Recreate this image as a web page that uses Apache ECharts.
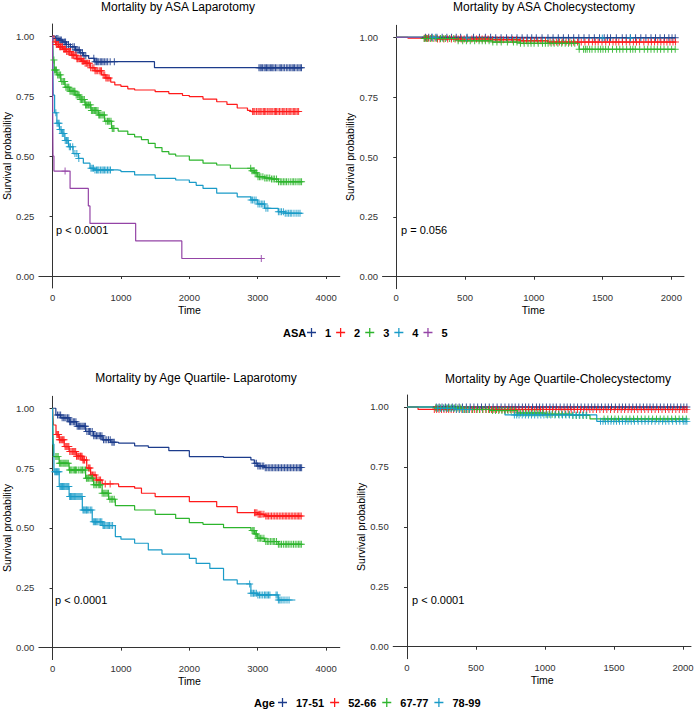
<!DOCTYPE html>
<html>
<head>
<meta charset="utf-8">
<script src="https://cdn.jsdelivr.net/npm/echarts@6/dist/echarts.min.js"></script>
<style>html,body{margin:0;padding:0;background:#fff}#c{width:697px;height:711px}</style>
</head>
<body>
<div id="c"></div>
<script>
// ---------- DATA ----------
const asaGroups = ['1', '2', '3', '4', '5'];
const ageGroups = ['17-51', '52-66', '67-77', '78-99'];
const yTicks = [0, 0.25, 0.5, 0.75, 1];
const xTicksLap = [0, 1000, 2000, 3000, 4000];
const xTicksChole = [0, 500, 1000, 1500, 2000];
const titles = ['Mortality by ASA Laparotomy', 'Mortality by ASA Cholecystectomy',
  'Mortality by Age Quartile- Laparotomy', 'Mortality by Age Quartile-Cholecystectomy'];
const pValues = ['p < 0.0001', 'p = 0.056', 'p < 0.0001', 'p < 0.0001'];

// Kaplan-Meier curves [time, survival]
const asa1Lap = [[0,1],[40,0.99],[90,0.983],[150,0.975],[200,0.965],[260,0.955],[334,0.942],[400,0.93],[450,0.918],[527,0.907],[615,0.893],[1490,0.868],[3650,0.868]];
const asa2Lap = [[0,1],[20,0.975],[50,0.965],[87,0.955],[150,0.945],[200,0.935],[280,0.92],[350,0.905],[420,0.895],[475,0.886],[550,0.868],[620,0.855],[717,0.838],[780,0.825],[850,0.808],[910,0.796],[1000,0.79],[1100,0.78],[1200,0.775],[1500,0.768],[1700,0.76],[1900,0.752],[2000,0.747],[2200,0.737],[2400,0.726],[2550,0.715],[2700,0.70],[2850,0.69],[2900,0.685],[3600,0.682]];
const asa3Lap = [[0,1],[8,0.9],[24,0.858],[63,0.838],[120,0.81],[183,0.786],[250,0.77],[329,0.754],[400,0.735],[474,0.713],[560,0.69],[668,0.671],[760,0.645],[862,0.615],[959,0.604],[1100,0.59],[1200,0.58],[1300,0.568],[1400,0.553],[1500,0.535],[1600,0.518],[1700,0.508],[1800,0.5],[2000,0.483],[2200,0.47],[2400,0.4625],[2600,0.449],[2900,0.439],[2950,0.43],[3000,0.414],[3100,0.408],[3200,0.404],[3300,0.393],[3650,0.393]];
const asa4Lap = [[0,1],[5,0.85],[10,0.754],[30,0.68],[63,0.636],[100,0.61],[135,0.594],[180,0.565],[233,0.539],[300,0.51],[378,0.49],[450,0.47],[547,0.449],[600,0.442],[950,0.44],[1000,0.435],[1200,0.421],[1500,0.407],[1800,0.40],[2000,0.39],[2100,0.378],[2200,0.365],[2400,0.345],[2700,0.33],[2900,0.317],[3000,0.30],[3100,0.282],[3300,0.268],[3400,0.261],[3650,0.261]];
const asa5Lap = [[0,1],[3,0.625],[6,0.5],[20,0.437],[256,0.365],[523,0.292],[547,0.219],[1215,0.146],[1890,0.073],[3052,0.073]];

const asa1Chole = [[0,1],[700,0.998],[2030,0.998]];
const asa2Chole = [[0,1],[85,0.996],[300,0.993],[700,0.99],[900,0.985],[1100,0.98],[2030,0.98]];
const asa3Chole = [[0,1],[200,0.995],[450,0.985],[700,0.98],[900,0.975],[1330,0.95],[2030,0.95]];
const asa4Chole = [[0,1],[400,0.997],[2030,0.997]];
const asa5Chole = [[0,1],[200,1]];

const age1Lap = [[0,1],[48,0.972],[120,0.96],[242,0.944],[350,0.925],[483,0.903],[600,0.885],[725,0.868],[850,0.858],[966,0.854],[1200,0.843],[1400,0.837],[1700,0.823],[2000,0.798],[2500,0.795],[2900,0.784],[2950,0.77],[3000,0.759],[3100,0.752],[3650,0.752]];
const age2Lap = [[0,1],[5,0.96],[14,0.93],[50,0.89],[97,0.868],[170,0.84],[242,0.819],[350,0.8],[435,0.784],[500,0.75],[556,0.721],[640,0.7],[725,0.684],[966,0.673],[1200,0.666],[1300,0.645],[1500,0.631],[2000,0.61],[2400,0.589],[2700,0.564],[3000,0.557],[3100,0.55],[3640,0.55]];
const age3Lap = [[0,1],[5,0.9],[15,0.798],[97,0.77],[242,0.742],[483,0.708],[600,0.68],[725,0.645],[820,0.62],[918,0.593],[1200,0.575],[1500,0.557],[1800,0.54],[2000,0.522],[2200,0.515],[2500,0.501],[2900,0.489],[2950,0.475],[3000,0.457],[3100,0.443],[3300,0.432],[3640,0.432]];
const age4Lap = [[0,1],[5,0.85],[20,0.735],[97,0.673],[242,0.631],[435,0.575],[580,0.526],[725,0.51],[918,0.464],[1000,0.453],[1200,0.436],[1400,0.408],[1600,0.391],[2000,0.373],[2100,0.352],[2300,0.331],[2500,0.283],[2700,0.266],[2900,0.227],[3000,0.22],[3250,0.22],[3300,0.199],[3550,0.199]];

const age1Chole = [[0,1],[2030,1]];
const age2Chole = [[0,1],[80,0.99],[2030,0.99]];
const age3Chole = [[0,1],[200,0.996],[400,0.99],[600,0.985],[800,0.975],[1000,0.97],[1200,0.965],[1326,0.95],[2030,0.95]];
const age4Chole = [[0,1],[200,0.995],[350,0.99],[710,0.967],[1375,0.94],[2030,0.94]];

// censoring times
const asa1LapCens = [60,78,95,112,128,150,172,190,205,233,262,296,318,338,356,374,392,412,437,460,486,603,622,642,660,676,698,718,737,757,782,806,842,903,3018,3036,3052,3071,3093,3110,3128,3147,3166,3185,3204,3220,3238,3260,3281,3312,3330,3349,3371,3393,3418,3440,3462,3483,3503,3520,3537,3560,3584,3603,3622,3640];
const asa2LapCens = [42,55,68,86,104,116,127,145,163,176,188,206,224,236,247,265,283,296,308,326,344,356,367,385,402,418,433,446,458,476,494,508,521,540,557,580,604,621,638,660,682,699,716,740,763,780,797,812,828,2925,2942,2958,2981,3004,3020,3037,3060,3082,3100,3118,3140,3163,3180,3197,3220,3242,3260,3276,3297,3318,3340,3364,3381,3398,3420,3442,3460,3476,3500,3521,3540,3558,3578,3598];
const asa3LapCens = [20,28,43,57,75,92,105,118,135,153,165,177,195,212,225,238,255,271,287,302,315,327,345,362,375,388,405,423,435,447,465,482,495,508,525,543,556,568,585,602,615,627,645,664,676,688,705,723,740,758,780,803,820,836,855,872,885,898,2897,2915,2932,2948,2963,2984,3004,3025,3046,3075,3103,3125,3148,3175,3202,3225,3247,3275,3304,3330,3352,3375,3398,3420,3446,3475,3503,3525,3548,3575,3602,3620,3641];
const asa4LapCens = [48,66,83,96,108,125,142,155,167,185,203,215,228,245,262,295,327,355,384,562,580,598,620,643,660,677,700,722,740,758,780,803,825,847,2903,2925,2948,2975,3004,3030,3052,3075,3097,3120,3148,3302,3325,3347,3375,3402,3428,3452,3475,3498,3530,3561,3590,3618];
const asa5LapCens = [183,3052];

const asa1CholeCens = [212,236,258,296,334,368,402,436,468,515,562,605,648,686,723,762,802,840,878,915,952,985,1018,1060,1103,1140,1178,1215,1252,1290,1327,1365,1402,1440,1478,1512,1535,1558,1600,1643,1672,1702,1740,1778,1815,1852,1885,1918,1950,1982,2005,2028];
const asa2CholeCens = [204,220,236,259,282,300,318,346,374,401,428,450,472,494,516,550,583,604,624,646,668,700,732,755,778,812,846,874,902,925,948,976,1004,1028,1052,1085,1118,1141,1164,1186,1207,1235,1262,1290,1318,1345,1372,1399,1426,1447,1468,1496,1523,1550,1576,1597,1618,1645,1672,1698,1724,1746,1768,1800,1832,1855,1878,1901,1924,1946,1968,1990,2012,2030];
const asa3CholeCens = [203,215,228,248,268,295,322,340,357,388,418,450,483,510,538,570,602,625,648,675,702,732,763,808,852,878,903,930,958,980,1002,1032,1063,1084,1104,1126,1148,1175,1203,1228,1252,1275,1298,1330,1362,1375,1388,1406,1423,1446,1468,1486,1503,1522,1542,1572,1602,1625,1648,1675,1702,1720,1738,1770,1803,1828,1852,1875,1898,1922,1947,1975,2002,2028];
const asa4CholeCens = [262,287,512,1498,1702];
const asa5CholeCens = [];

const age1LapCens = [72,95,118,140,163,180,197,218,238,250,262,283,304,323,342,360,378,395,412,430,447,465,482,502,523,540,557,580,602,622,642,662,683,702,722,745,768,793,818,843,868,885,902,2958,2980,3002,3022,3043,3066,3088,3110,3132,3154,3176,3197,3218,3240,3262,3283,3304,3326,3348,3370,3392,3414,3436,3457,3478,3500,3522,3544,3566,3587,3608,3625,3642];
const age2LapCens = [62,75,88,100,112,128,143,155,168,183,197,210,224,238,252,270,288,300,312,325,338,350,362,380,398,408,418,431,444,456,468,495,523,535,548,566,584,603,622,643,664,683,702,770,842,2952,2970,2988,3006,3024,3043,3062,3090,3118,3137,3156,3180,3202,3225,3248,3270,3292,3315,3338,3360,3382,3403,3424,3446,3468,3490,3512,3534,3556,3577,3598,3617,3636];
const age3LapCens = [48,65,82,100,118,135,152,167,182,197,213,230,248,265,282,302,322,335,348,375,402,420,438,460,482,495,508,527,546,565,584,603,622,645,668,685,702,725,748,765,782,800,818,838,858,880,902,2918,2933,2948,2965,2982,3002,3022,3042,3062,3090,3118,3140,3162,3185,3208,3228,3248,3275,3302,3325,3348,3375,3402,3424,3446,3472,3498,3523,3548,3573,3598,3618,3638];
const age4LapCens = [32,45,58,70,82,95,108,120,132,145,158,170,183,198,212,225,238,250,262,275,288,303,318,330,342,357,372,387,402,417,432,445,458,473,488,498,508,530,552,574,596,612,628,645,662,682,702,720,738,750,762,780,798,815,832,855,878,2882,2900,2918,2938,2958,2980,3002,3025,3048,3073,3098,3118,3138,3158,3178,3268,3285,3302,3322,3342,3370,3398,3428,3458];

const age1CholeCens = [212,233,254,278,302,328,354,378,402,430,458,485,512,540,568,596,624,653,682,710,738,761,784,810,836,859,882,910,938,961,984,1010,1036,1059,1082,1110,1138,1161,1184,1210,1236,1262,1288,1313,1338,1361,1384,1410,1436,1459,1482,1510,1538,1561,1584,1610,1636,1662,1688,1713,1738,1761,1784,1810,1836,1862,1888,1911,1934,1959,1984,2006,2028];
const age2CholeCens = [198,215,232,250,268,285,302,320,338,358,378,398,418,435,452,470,488,508,528,550,572,592,612,630,648,668,688,708,728,748,768,790,812,835,858,880,902,925,948,968,988,1010,1032,1055,1078,1100,1122,1145,1168,1190,1212,1235,1258,1280,1302,1325,1348,1373,1398,1423,1448,1475,1502,1527,1552,1577,1602,1625,1648,1673,1698,1723,1748,1773,1798,1823,1848,1873,1898,1923,1948,1973,1998,2013,2028];
const age3CholeCens = [208,225,242,265,288,305,322,345,368,390,412,430,448,475,502,525,548,573,598,620,642,665,688,710,732,755,778,800,822,845,868,890,912,935,958,983,1008,1030,1052,1075,1098,1123,1148,1175,1202,1227,1252,1277,1302,1428,1455,1482,1507,1532,1560,1588,1615,1642,1670,1698,1725,1752,1780,1808,1835,1862,1890,1918,1945,1972,1998,2024];
const age4CholeCens = [222,245,268,293,318,338,358,380,402,427,452,778,795,812,835,858,880,902,925,948,970,992,1017,1042,1072,1102,1127,1152,1177,1202,1225,1248,1273,1298,1402,1420,1438,1458,1478,1498,1518,1540,1562,1582,1602,1625,1648,1675,1702,1725,1748,1773,1798,1825,1852,1875,1898,1925,1952,1977,2002,2015,2028];

const asaColors = ['#1C3C8C', '#FF1A1A', '#2DB52D', '#1A9BC8', '#9444A6'];
const ageColors = ['#1C3C8C', '#FF1A1A', '#2DB52D', '#1A9BC8'];

// ---------- BUILD ----------
const FONT = '"Liberation Sans", Arial, sans-serif';
const plus = 'path://M4.3,0H5.7V4.3H10V5.7H5.7V10H4.3V5.7H0V4.3H4.3Z';

function stepAt(curve, t) {
  let y = curve[0][1];
  for (const p of curve) { if (p[0] <= t) y = p[1]; else break; }
  return y;
}

const panels = [
  {names: asaGroups, colors: asaColors, curves: [asa1Lap, asa2Lap, asa3Lap, asa4Lap, asa5Lap], cens: [asa1LapCens, asa2LapCens, asa3LapCens, asa4LapCens, asa5LapCens]},
  {names: asaGroups, colors: asaColors, curves: [asa1Chole, asa2Chole, asa3Chole, asa4Chole, asa5Chole], cens: [asa1CholeCens, asa2CholeCens, asa3CholeCens, asa4CholeCens, asa5CholeCens]},
  {names: ageGroups, colors: ageColors, curves: [age1Lap, age2Lap, age3Lap, age4Lap], cens: [age1LapCens, age2LapCens, age3LapCens, age4LapCens]},
  {names: ageGroups, colors: ageColors, curves: [age1Chole, age2Chole, age3Chole, age4Chole], cens: [age1CholeCens, age2CholeCens, age3CholeCens, age4CholeCens]}
];

const layout = [
  {grid: {left: 37, top: 24, width: 302.8, height: 264}, xmin: -200, xmax: 4200, xt: xTicksLap, title: [178, 6.5], p: [56, 230], yGap: 25},
  {grid: {left: 382.5, top: 25.3, width: 301.5, height: 263.4}, xmin: -100, xmax: 2092, xt: xTicksChole, title: [544, 6.5], p: [401, 230], yGap: 24.5},
  {grid: {left: 36.2, top: 396.3, width: 303.6, height: 263.3}, xmin: -200, xmax: 4200, xt: xTicksLap, title: [196, 377.5], p: [55, 600], yGap: 23.5},
  {grid: {left: 393.2, top: 395, width: 297.8, height: 263.7}, xmin: -100, xmax: 2058, xt: xTicksChole, title: [558, 378.5], p: [412, 600], yGap: 23}
];

const grids = [], xAxes = [], yAxes = [], series = [], graphics = [];
const axisCommon = {
  axisLine: {lineStyle: {color: '#333', width: 1}},
  axisTick: {show: true, length: 3, lineStyle: {color: '#333', width: 1}},
  splitLine: {show: false}
};
layout.forEach((L, i) => {
  grids.push(Object.assign({containLabel: false}, L.grid));
  xAxes.push(Object.assign({}, axisCommon, {
    type: 'value', gridIndex: i, min: L.xmin, max: L.xmax,
    axisTick: Object.assign({}, axisCommon.axisTick, {customValues: L.xt}),
    axisLabel: {customValues: L.xt, margin: 4, fontSize: 9.5, color: '#333', fontFamily: FONT, formatter: v => String(v)},
    name: 'Time', nameLocation: 'middle', nameGap: 16,
    nameTextStyle: {fontSize: 10.5, color: '#000', fontFamily: FONT}
  }));
  yAxes.push(Object.assign({}, axisCommon, {
    type: 'value', gridIndex: i, min: -0.05, max: 1.05,
    axisTick: Object.assign({}, axisCommon.axisTick, {customValues: yTicks}),
    axisLabel: {customValues: yTicks, margin: 4.5, fontSize: 9.5, color: '#333', fontFamily: FONT, formatter: v => v.toFixed(2)},
    name: 'Survival probability', nameLocation: 'middle', nameGap: L.yGap,
    nameTextStyle: {fontSize: 10.5, color: '#000', fontFamily: FONT}
  }));
  const P = panels[i];
  P.curves.forEach((c, k) => {
    series.push({
      type: 'line', name: P.names[k], xAxisIndex: i, yAxisIndex: i, data: c, step: 'end',
      showSymbol: false, symbol: 'none', color: P.colors[k],
      lineStyle: {width: 1.2, color: P.colors[k]}, silent: true, z: 2 + k
    });
  });
  P.cens.forEach((ts, k) => {
    series.push({
      type: 'scatter', name: P.names[k], xAxisIndex: i, yAxisIndex: i,
      data: ts.map(t => [t, stepAt(P.curves[k], t)]),
      symbol: plus, symbolSize: 7, color: P.colors[k],
      itemStyle: {color: P.colors[k], opacity: 0.9}, silent: true, z: 10 + k
    });
  });
  graphics.push({type: 'text', x: L.title[0], y: L.title[1], style: {text: titles[i], fill: '#000', font: '12px ' + FONT, align: 'center', verticalAlign: 'middle'}});
  graphics.push({type: 'text', x: L.p[0], y: L.p[1], style: {text: pValues[i], fill: '#000', font: '11px ' + FONT, align: 'left', verticalAlign: 'middle'}});
});
graphics.push({type: 'text', x: 283, y: 333, style: {text: 'ASA', fill: '#000', font: 'bold 11px ' + FONT, align: 'left', verticalAlign: 'middle'}});
graphics.push({type: 'text', x: 254, y: 703, style: {text: 'Age', fill: '#000', font: 'bold 11px ' + FONT, align: 'left', verticalAlign: 'middle'}});

const legendCommon = {
  orient: 'horizontal', itemWidth: 17, itemHeight: 9, selectedMode: false, padding: 0,
  textStyle: {fontWeight: 'bold', fontSize: 11, color: '#000', fontFamily: FONT}
};
const option = {
  animation: false,
  backgroundColor: '#fff',
  grid: grids, xAxis: xAxes, yAxis: yAxes, series: series,
  legend: [
    Object.assign({}, legendCommon, {left: 307, top: 327, itemGap: 5,
      data: asaGroups.map((n, k) => ({name: n, icon: plus, itemStyle: {color: asaColors[k]}}))}),
    Object.assign({}, legendCommon, {left: 278, top: 697, itemGap: 6,
      data: ageGroups.map((n, k) => ({name: n, icon: plus, itemStyle: {color: ageColors[k]}}))})
  ],
  graphic: graphics
};
const chart = echarts.init(document.getElementById('c'), null, {renderer: 'svg', width: 697, height: 711});
chart.setOption(option);
</script>
</body>
</html>
